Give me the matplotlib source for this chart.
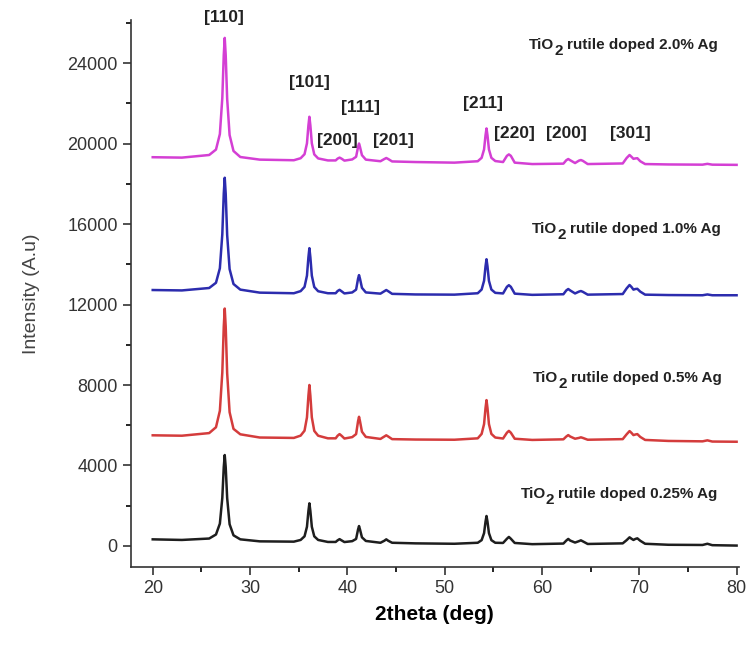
import numpy as np
import matplotlib
matplotlib.use('Agg')
import matplotlib.pyplot as plt
from matplotlib.ticker import MultipleLocator

plt.rcParams['font.family'] = ['Liberation Sans', 'DejaVu Sans']

# 2theta sampling points
two_theta = [20, 23, 25.8, 26.5, 26.9, 27.15, 27.3, 27.4, 27.5, 27.65, 27.9, 28.3, 29.0, 31, 34.5,
             35.2, 35.6, 35.85, 36.0, 36.1, 36.2, 36.35, 36.6, 37.0, 38.0,
             38.8, 39.0, 39.2, 39.4, 39.7,
             40.5, 40.9, 41.1, 41.2, 41.3, 41.5, 41.9,
             43.4, 43.8, 44.0, 44.2, 44.6,
             47, 51, 53.4, 53.8, 54.05, 54.2, 54.3, 54.4, 54.55, 54.8, 55.2,
             56.0, 56.4, 56.6, 56.8, 57.2,
             59, 62.2, 62.5, 62.7, 62.9, 63.4, 63.8, 64.0, 64.2, 64.7,
             68.3, 68.7, 69.0, 69.2, 69.4, 69.6, 69.8, 70.1, 70.6,
             73, 76.5, 77, 77.5, 80]

ag_025 = [330, 300, 370, 570, 1110, 2390, 3920, 4520, 3920, 2380, 1080, 530, 330, 230, 215,
          300, 480, 955, 1740, 2120, 1740, 955, 480, 300, 200,
          200, 280, 340, 280, 195,
          240, 350, 820, 990, 820, 430, 250,
          160, 260, 330, 260, 160,
          130, 110, 160, 290, 640, 1210, 1490, 1210, 640, 290, 160,
          150, 360, 450, 360, 150,
          90, 120, 270, 350, 270, 170, 240, 280, 230, 100,
          130, 290, 430, 360, 300, 350, 380, 260, 110,
          60, 50, 110, 40, 20]

ag_05 = [5500, 5480, 5610, 5900, 6720, 8620, 10900, 11800, 10900, 8580, 6650, 5820, 5550, 5390, 5370,
         5485, 5730, 6390, 7470, 8000, 7470, 6390, 5720, 5480, 5350,
         5350, 5480, 5560, 5480, 5340,
         5410, 5560, 6200, 6420, 6200, 5680, 5420,
         5320, 5440, 5500, 5440, 5310,
         5290, 5280, 5350, 5570, 6060, 6860, 7250, 6860, 6060, 5570, 5390,
         5340, 5630, 5720, 5630, 5330,
         5270, 5300, 5440, 5510, 5440, 5330, 5370, 5400, 5370, 5280,
         5310, 5550, 5710, 5620, 5510, 5540, 5560, 5420, 5270,
         5220, 5200, 5250, 5190, 5180]

ag_10 = [12720, 12700, 12820, 13080, 13800, 15490, 17510, 18300, 17500, 15450, 13760, 13020, 12740, 12590, 12560,
         12665, 12875, 13435, 14350, 14800, 14350, 13435, 12870, 12660, 12560,
         12560, 12670, 12730, 12660, 12550,
         12600, 12740, 13280, 13460, 13280, 12830, 12600,
         12540, 12660, 12720, 12660, 12530,
         12500, 12490, 12560, 12745, 13180, 13900, 14250, 13900, 13180, 12745, 12580,
         12550, 12880, 12960, 12880, 12540,
         12480, 12510, 12700, 12770, 12700, 12550, 12640, 12670, 12630, 12490,
         12520, 12800, 12970, 12870, 12740, 12770, 12780, 12640, 12490,
         12470, 12460, 12500, 12460, 12460]

ag_20 = [19320, 19300, 19430, 19700, 20470, 22260, 24400, 25250, 24390, 22220, 20420, 19630, 19330, 19200, 19170,
         19270, 19470, 20010, 20900, 21330, 20900, 20010, 19460, 19260, 19160,
         19160, 19250, 19300, 19250, 19150,
         19210, 19340, 19830, 20000, 19830, 19420, 19200,
         19120, 19230, 19280, 19230, 19110,
         19080, 19050, 19120, 19290, 19710, 20410, 20750, 20410, 19710, 19290, 19130,
         19080, 19390, 19460, 19390, 19050,
         18980, 19000, 19170, 19230, 19170, 19030, 19150, 19180, 19140, 18980,
         19010, 19280, 19430, 19340, 19240, 19260, 19270, 19120, 18980,
         18960, 18950, 18990, 18950, 18940]

doping = ['0.25', '0.5', '1.0', '2.0']
series_colors = ['#1e1e1e', '#d43c3c', '#2c2cae', '#d43fd4']

# Miller index labels
hkl = ['[110]', '[101]', '[200]', '[111]', '[201]', '[211]', '[220]', '[200]', '[301]']
hkl_x = [27.3, 36.1, 39.0, 41.35, 44.7, 53.9, 57.2, 62.5, 69.1]
hkl_y = [26250, 23050, 20150, 21800, 20150, 22000, 20500, 20500, 20500]

fig = plt.figure(figsize=(7.53, 6.55), dpi=100)
ax = fig.add_axes([0.174, 0.1344, 0.8068, 0.8351])

for y, c in zip([ag_025, ag_05, ag_10, ag_20], series_colors):
    ax.plot(two_theta, y, color=c, lw=1.8)

# labels next to each pattern (TiO + big lowered 2 + rest)
lab_x = [57.8, 59.1, 59.0, 58.7]
lab_y = [2250, 8000, 15400, 24550]
fs = 11
for d, xx, yy in zip(doping, lab_x, lab_y):
    t1 = ax.text(xx, yy, 'TiO', fontsize=fs, fontweight='bold', color='#222222', va='bottom')
    t2 = ax.annotate('2', xy=(1, 0), xycoords=t1, xytext=(0, -4.5), textcoords='offset points',
                     fontsize=fs, fontweight='bold', color='#222222', va='bottom')
    ax.annotate('rutile doped %s%% Ag' % d, xy=(1, 0), xycoords=(t2, t1),
                xytext=(3, 0), textcoords='offset points',
                fontsize=fs, fontweight='bold', color='#222222', va='bottom')

for t, xx, yy in zip(hkl, hkl_x, hkl_y):
    ax.text(xx, yy, t, fontsize=12.5, fontweight='bold', color='#222222',
            ha='center', va='center', clip_on=False)

ax.set_xlim(17.77, 80.2)
ax.set_ylim(-1043, 26140)
ax.xaxis.set_major_locator(MultipleLocator(10))
ax.xaxis.set_minor_locator(MultipleLocator(5))
ax.yaxis.set_major_locator(MultipleLocator(4000))
ax.yaxis.set_minor_locator(MultipleLocator(2000))
ax.tick_params(which='major', direction='out', length=6, width=1.2, labelsize=13, colors='#333333')
ax.tick_params(which='minor', direction='out', length=3.5, width=1.2)
for sp in ['top', 'right']:
    ax.spines[sp].set_visible(False)
for sp in ['left', 'bottom']:
    ax.spines[sp].set_linewidth(1.2)
    ax.spines[sp].set_color('#333333')

ax.set_xlabel('2theta (deg)', fontsize=15, fontweight='bold', labelpad=6)
ax.set_ylabel('Intensity (A.u)', fontsize=14, labelpad=20, color='#444444')

fig.savefig('out.png', dpi=100)
